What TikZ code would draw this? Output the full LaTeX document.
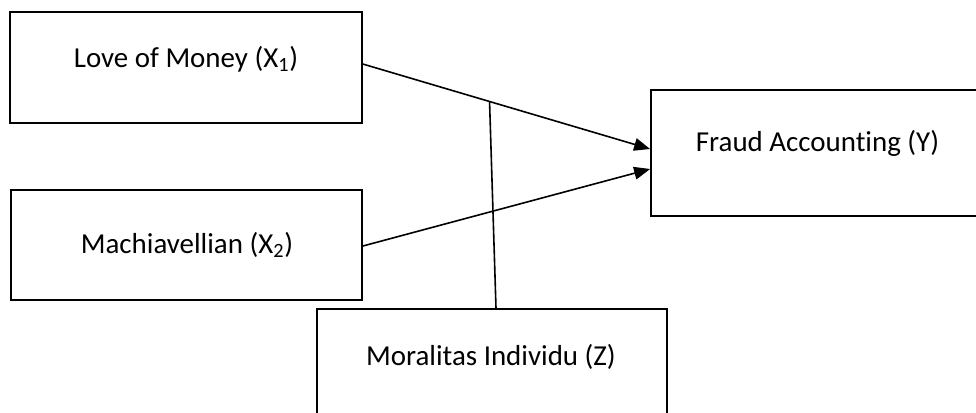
\documentclass[tikz,border=0pt]{standalone}
\usepackage{fontspec}
\setmainfont{Carlito}[Ligatures=NoCommon]
\usetikzlibrary{arrows.meta,calc}
\begin{document}
\begin{tikzpicture}[x=0.75pt,y=-0.75pt,
  box/.style={draw=black,line width=1.3pt,minimum width=#1,inner sep=0pt},
  lbl/.style={anchor=base,font=\fontsize{21.7}{26}\selectfont,inner sep=0pt},
  conn/.style={draw=black,line width=1.2pt},
  arr/.style={conn,-{Triangle[length=12pt,width=9.5pt]}}]
\clip (0,0) rectangle (976,412);
\fill[white] (0,0) rectangle (976,412);
\node[box=264pt,minimum height=83.25pt] (lm) at (186,67.5) {};
\node[box=263.25pt,minimum height=82.5pt] (ma) at (186.5,245) {};
\node[box=258pt,minimum height=94.5pt] (fa) at (823,153) {};
\node[box=262.5pt,minimum height=83.25pt] (mi) at (492,364.5) {};
\node[lbl] (tlm) at (186,67) {Love of Money (X\textsubscript{1})};
\node[lbl] (tma) at (187,253) {Machiavellian (X\textsubscript{2})};
\node[lbl] (tfa) at (817.5,151) {Fraud Accounting (Y)};
\node[lbl] (tmi) at (491,365) {Moralitas Individu (Z)};
\coordinate (a1s) at ([yshift=2.6pt]lm.east);
\coordinate (a1e) at ([yshift=3pt]fa.west);
\coordinate (a2s) at ([yshift=-0.75pt]ma.east);
\coordinate (a2e) at ([yshift=-12pt]fa.west);
\draw[arr] (a1s) -- (a1e);
\draw[arr] (a2s) -- (a2e);
\coordinate (mod) at ($(a1s)!0.441!(a1e)$);
\draw[conn] (mod) -- ([xshift=3pt]mi.north);
\end{tikzpicture}
\end{document}
